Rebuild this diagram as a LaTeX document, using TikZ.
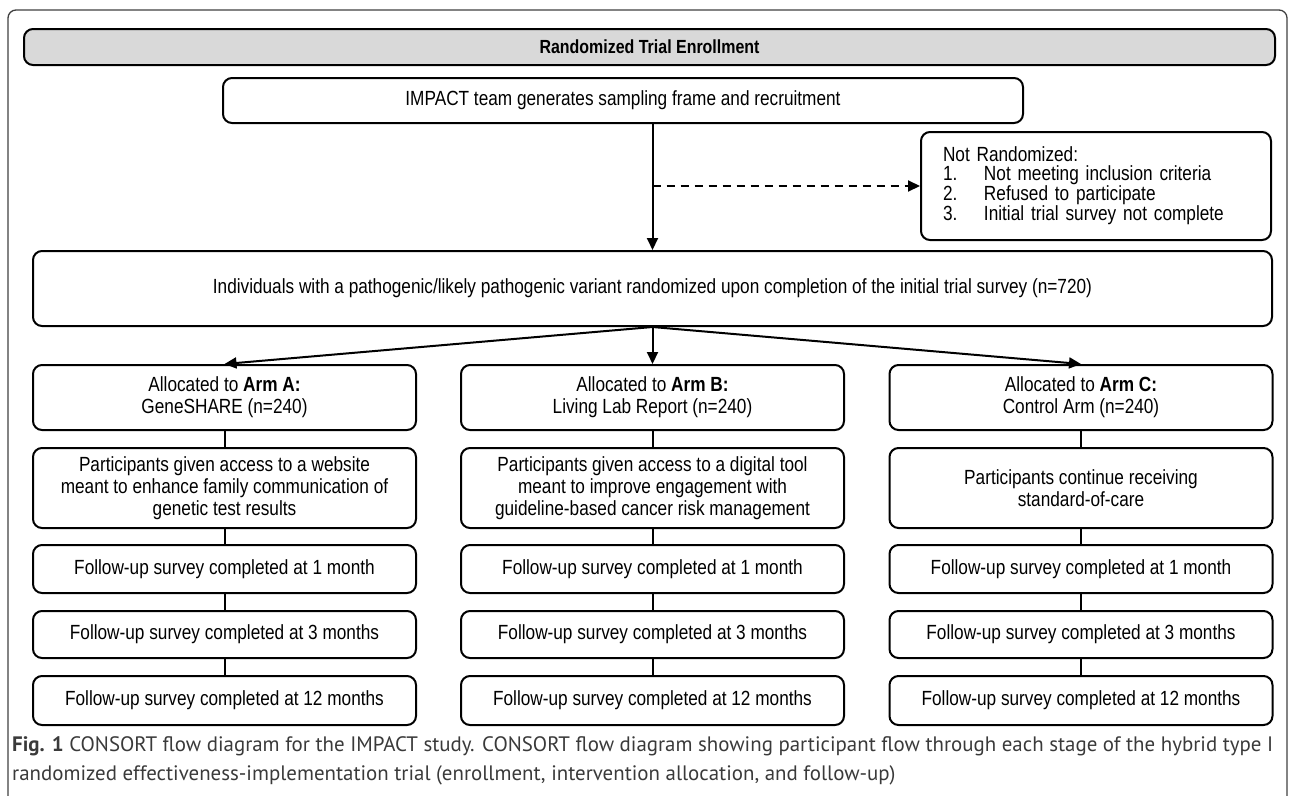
\documentclass[tikz,border=0pt]{standalone}
\usepackage{fontspec}
\setmainfont{Liberation Sans}[FakeStretch=0.84]
\newfontfamily\capfont{PT Sans}
\usetikzlibrary{positioning, arrows.meta}
\definecolor{hdrgray}{HTML}{D9D9D9}
\definecolor{capgray}{HTML}{3A3A3A}
\tikzset{
x=1pt, y=-1pt, % one unit for each pixel of the figure, y counted downwards
>={Triangle[length=12pt, width=11pt]}, % filled heads as in the original
node distance=16pt, % gap between the boxes of one arm
box/.style={draw, line width=2pt, rounded corners=9pt, align=center, inner sep=0pt, font=\fontsize{20.5}{22}\selectfont}, % every box of the chart
armbox/.style={box, minimum width=383pt}, % boxes in the three columns
link/.style={line width=2pt}, % connectors
}

\begin{document}
\begin{tikzpicture}
    \useasboundingbox (0,0) rectangle (1292,795);
    \draw[line width=1.3pt, black!75, rounded corners=8pt] (8,10) rectangle (1287,830);

    \node[box, fill=hdrgray, minimum width=1251pt, minimum height=36pt, font=\bfseries\fontsize{19}{21}\selectfont] (hdr) at (649.5,47) {Randomized Trial Enrollment};
    \node[box, minimum width=800pt, minimum height=45pt] (impact) at (623,100.5) {IMPACT team generates sampling frame and recruitment};
    \node[box, align=left, text width=306pt, inner xsep=22pt, minimum height=108pt, font=\fontsize{20.5}{18.5}\selectfont] (notrand) at (1096,186)
        {Not Randomized:\\
         \makebox[41pt][l]{1.}Not meeting inclusion criteria\\
         \makebox[41pt][l]{2.}Refused to participate\\
         \makebox[41pt][l]{3.}Initial trial survey not complete};
    \node[box, minimum width=1239pt, minimum height=75pt] (indiv) at (652.5,288.5) {Individuals with a pathogenic/likely pathogenic variant randomized upon completion of the initial trial survey (n=720)};

    % Arm A
    \node[armbox, minimum height=65pt] (armA) at (224.5,397.5) {Allocated to \textbf{Arm A:}\\GeneSHARE (n=240)};
    \node[armbox, minimum height=80pt, below=of armA] (toolA) {Participants given access to a website\\meant to enhance family communication of\\genetic test results};
    \node[armbox, minimum height=48pt, below=15pt of toolA] (oneA) {Follow-up survey completed at 1 month};
    \node[armbox, minimum height=47pt, below=of oneA] (threeA) {Follow-up survey completed at 3 months};
    \node[armbox, minimum height=49pt, below=of threeA] (twelveA) {Follow-up survey completed at 12 months};

    % Arm B
    \node[armbox, minimum height=65pt] (armB) at (652.5,397.5) {Allocated to \textbf{Arm B:}\\Living Lab Report (n=240)};
    \node[armbox, minimum height=80pt, below=of armB] (toolB) {Participants given access to a digital tool\\meant to improve engagement with\\guideline-based cancer risk management};
    \node[armbox, minimum height=48pt, below=15pt of toolB] (oneB) {Follow-up survey completed at 1 month};
    \node[armbox, minimum height=47pt, below=of oneB] (threeB) {Follow-up survey completed at 3 months};
    \node[armbox, minimum height=49pt, below=of threeB] (twelveB) {Follow-up survey completed at 12 months};

    % Arm C
    \node[armbox, minimum height=65pt] (armC) at (1081,397.5) {Allocated to \textbf{Arm C:}\\Control Arm (n=240)};
    \node[armbox, minimum height=80pt, below=of armC] (toolC) {Participants continue receiving\\standard-of-care};
    \node[armbox, minimum height=48pt, below=15pt of toolC] (oneC) {Follow-up survey completed at 1 month};
    \node[armbox, minimum height=47pt, below=of oneC] (threeC) {Follow-up survey completed at 3 months};
    \node[armbox, minimum height=49pt, below=of threeC] (twelveC) {Follow-up survey completed at 12 months};

    \draw[link, ->] (impact.south -| indiv.north) -- (indiv.north);
    \draw[link, ->, dash pattern=on 8pt off 6pt] (notrand.west -| indiv.north) -- (notrand.west);
    \draw[link, ->] (indiv.south) -- (armA.north);
    \draw[link, ->] (indiv.south) -- (armB.north);
    \draw[link, ->] (indiv.south) -- (armC.north);
    \draw[link] (armA) -- (toolA) -- (oneA) -- (threeA) -- (twelveA);
    \draw[link] (armB) -- (toolB) -- (oneB) -- (threeB) -- (twelveB);
    \draw[link] (armC) -- (toolC) -- (oneC) -- (threeC) -- (twelveC);

    \node[anchor=north west, align=left, inner sep=0pt, text=capgray, font=\capfont\fontsize{20.9}{29}\selectfont] (caption) at (12,736)
        {\textbf{Fig. 1} CONSORT flow diagram for the IMPACT study. CONSORT flow diagram showing participant flow through each stage of the hybrid type I\\
         randomized effectiveness-implementation trial (enrollment, intervention allocation, and follow-up)};
\end{tikzpicture}
\end{document}
